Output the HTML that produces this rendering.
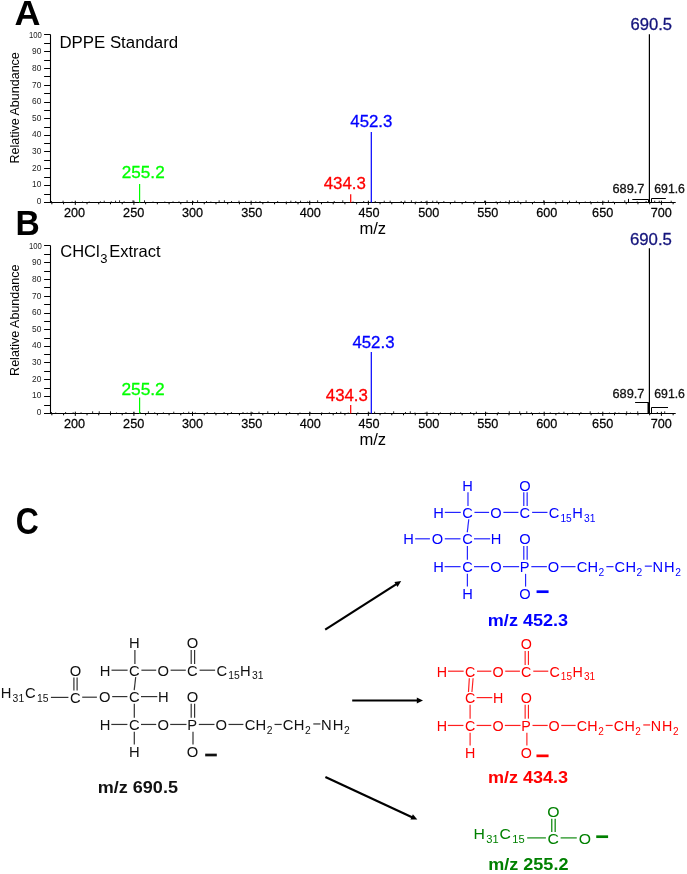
<!DOCTYPE html>
<html><head><meta charset="utf-8"><style>
html,body{margin:0;padding:0;background:#fff;}
svg{display:block;font-family:"Liberation Sans", sans-serif;will-change:transform;}
</style></head><body>
<svg width="687" height="874" viewBox="0 0 687 874">
<rect width="687" height="874" fill="#fff"/>
<text transform="translate(14.40,24.60) scale(1.0135,1)" font-size="35.49" font-weight="bold" fill="#000">A</text>
<text transform="translate(15.43,234.50) scale(0.9627,1)" font-size="34.91" font-weight="bold" fill="#000">B</text>
<text transform="translate(15.82,534.34) scale(0.8784,1)" font-size="36.33" font-weight="bold" fill="#000">C</text>
<line x1="50.50" y1="34.50" x2="50.50" y2="203.00" stroke="#000" stroke-width="1.1" />
<line x1="44.10" y1="202.50" x2="50.50" y2="202.50" stroke="#000" stroke-width="1.0" />
<line x1="44.10" y1="194.50" x2="50.50" y2="194.50" stroke="#000" stroke-width="1.0" />
<line x1="44.10" y1="185.50" x2="50.50" y2="185.50" stroke="#000" stroke-width="1.0" />
<line x1="44.10" y1="177.50" x2="50.50" y2="177.50" stroke="#000" stroke-width="1.0" />
<line x1="44.10" y1="168.50" x2="50.50" y2="168.50" stroke="#000" stroke-width="1.0" />
<line x1="44.10" y1="160.50" x2="50.50" y2="160.50" stroke="#000" stroke-width="1.0" />
<line x1="44.10" y1="151.50" x2="50.50" y2="151.50" stroke="#000" stroke-width="1.0" />
<line x1="44.10" y1="143.50" x2="50.50" y2="143.50" stroke="#000" stroke-width="1.0" />
<line x1="44.10" y1="135.50" x2="50.50" y2="135.50" stroke="#000" stroke-width="1.0" />
<line x1="44.10" y1="127.50" x2="50.50" y2="127.50" stroke="#000" stroke-width="1.0" />
<line x1="44.10" y1="118.50" x2="50.50" y2="118.50" stroke="#000" stroke-width="1.0" />
<line x1="44.10" y1="110.50" x2="50.50" y2="110.50" stroke="#000" stroke-width="1.0" />
<line x1="44.10" y1="102.50" x2="50.50" y2="102.50" stroke="#000" stroke-width="1.0" />
<line x1="44.10" y1="93.50" x2="50.50" y2="93.50" stroke="#000" stroke-width="1.0" />
<line x1="44.10" y1="85.50" x2="50.50" y2="85.50" stroke="#000" stroke-width="1.0" />
<line x1="44.10" y1="76.50" x2="50.50" y2="76.50" stroke="#000" stroke-width="1.0" />
<line x1="44.10" y1="68.50" x2="50.50" y2="68.50" stroke="#000" stroke-width="1.0" />
<line x1="44.10" y1="60.50" x2="50.50" y2="60.50" stroke="#000" stroke-width="1.0" />
<line x1="44.10" y1="51.50" x2="50.50" y2="51.50" stroke="#000" stroke-width="1.0" />
<line x1="44.10" y1="43.50" x2="50.50" y2="43.50" stroke="#000" stroke-width="1.0" />
<line x1="44.10" y1="34.50" x2="50.50" y2="34.50" stroke="#000" stroke-width="1.0" />
<text transform="translate(41.4,203.85) scale(0.93,1)" font-size="9" text-anchor="end" fill="#222">0</text>
<text transform="translate(41.4,187.25) scale(0.93,1)" font-size="9" text-anchor="end" fill="#222">10</text>
<text transform="translate(41.4,170.65) scale(0.93,1)" font-size="9" text-anchor="end" fill="#222">20</text>
<text transform="translate(41.4,154.05) scale(0.93,1)" font-size="9" text-anchor="end" fill="#222">30</text>
<text transform="translate(41.4,137.45) scale(0.93,1)" font-size="9" text-anchor="end" fill="#222">40</text>
<text transform="translate(41.4,120.85) scale(0.93,1)" font-size="9" text-anchor="end" fill="#222">50</text>
<text transform="translate(41.4,104.25) scale(0.93,1)" font-size="9" text-anchor="end" fill="#222">60</text>
<text transform="translate(41.4,87.65) scale(0.93,1)" font-size="9" text-anchor="end" fill="#222">70</text>
<text transform="translate(41.4,71.05) scale(0.93,1)" font-size="9" text-anchor="end" fill="#222">80</text>
<text transform="translate(41.4,54.45) scale(0.93,1)" font-size="9" text-anchor="end" fill="#222">90</text>
<text transform="translate(41.9,37.85) scale(0.86,1)" font-size="9" text-anchor="end" fill="#222">100</text>
<line x1="44.00" y1="202.50" x2="675.70" y2="202.50" stroke="#000" stroke-width="1.1" />
<line x1="51.86" y1="202.50" x2="51.86" y2="204.30" stroke="#000" stroke-width="1.0" />
<line x1="63.58" y1="202.50" x2="63.58" y2="204.30" stroke="#000" stroke-width="1.0" />
<line x1="75.30" y1="200.70" x2="75.30" y2="204.90" stroke="#000" stroke-width="1.0" />
<text transform="translate(74.55,216.95) scale(0.945,1)" font-size="13.4" text-anchor="middle" fill="#000" stroke="#000" stroke-width="0.25">200</text>
<line x1="87.02" y1="202.50" x2="87.02" y2="204.30" stroke="#000" stroke-width="1.0" />
<line x1="98.74" y1="202.50" x2="98.74" y2="204.30" stroke="#000" stroke-width="1.0" />
<line x1="110.47" y1="202.50" x2="110.47" y2="204.30" stroke="#000" stroke-width="1.0" />
<line x1="122.19" y1="202.50" x2="122.19" y2="204.30" stroke="#000" stroke-width="1.0" />
<line x1="133.91" y1="200.70" x2="133.91" y2="204.90" stroke="#000" stroke-width="1.0" />
<text transform="translate(133.65,216.95) scale(0.945,1)" font-size="13.4" text-anchor="middle" fill="#000" stroke="#000" stroke-width="0.25">250</text>
<line x1="145.63" y1="202.50" x2="145.63" y2="204.30" stroke="#000" stroke-width="1.0" />
<line x1="157.35" y1="202.50" x2="157.35" y2="204.30" stroke="#000" stroke-width="1.0" />
<line x1="169.08" y1="202.50" x2="169.08" y2="204.30" stroke="#000" stroke-width="1.0" />
<line x1="180.80" y1="202.50" x2="180.80" y2="204.30" stroke="#000" stroke-width="1.0" />
<line x1="192.52" y1="200.70" x2="192.52" y2="204.90" stroke="#000" stroke-width="1.0" />
<text transform="translate(192.45,216.95) scale(0.945,1)" font-size="13.4" text-anchor="middle" fill="#000" stroke="#000" stroke-width="0.25">300</text>
<line x1="204.24" y1="202.50" x2="204.24" y2="204.30" stroke="#000" stroke-width="1.0" />
<line x1="215.96" y1="202.50" x2="215.96" y2="204.30" stroke="#000" stroke-width="1.0" />
<line x1="227.69" y1="202.50" x2="227.69" y2="204.30" stroke="#000" stroke-width="1.0" />
<line x1="239.41" y1="202.50" x2="239.41" y2="204.30" stroke="#000" stroke-width="1.0" />
<line x1="251.13" y1="200.70" x2="251.13" y2="204.90" stroke="#000" stroke-width="1.0" />
<text transform="translate(251.75,216.95) scale(0.945,1)" font-size="13.4" text-anchor="middle" fill="#000" stroke="#000" stroke-width="0.25">350</text>
<line x1="262.85" y1="202.50" x2="262.85" y2="204.30" stroke="#000" stroke-width="1.0" />
<line x1="274.57" y1="202.50" x2="274.57" y2="204.30" stroke="#000" stroke-width="1.0" />
<line x1="286.30" y1="202.50" x2="286.30" y2="204.30" stroke="#000" stroke-width="1.0" />
<line x1="298.02" y1="202.50" x2="298.02" y2="204.30" stroke="#000" stroke-width="1.0" />
<line x1="309.74" y1="200.70" x2="309.74" y2="204.90" stroke="#000" stroke-width="1.0" />
<text transform="translate(310.35,216.95) scale(0.945,1)" font-size="13.4" text-anchor="middle" fill="#000" stroke="#000" stroke-width="0.25">400</text>
<line x1="321.46" y1="202.50" x2="321.46" y2="204.30" stroke="#000" stroke-width="1.0" />
<line x1="333.18" y1="202.50" x2="333.18" y2="204.30" stroke="#000" stroke-width="1.0" />
<line x1="344.91" y1="202.50" x2="344.91" y2="204.30" stroke="#000" stroke-width="1.0" />
<line x1="356.63" y1="202.50" x2="356.63" y2="204.30" stroke="#000" stroke-width="1.0" />
<line x1="368.35" y1="200.70" x2="368.35" y2="204.90" stroke="#000" stroke-width="1.0" />
<text transform="translate(368.95,216.95) scale(0.945,1)" font-size="13.4" text-anchor="middle" fill="#000" stroke="#000" stroke-width="0.25">450</text>
<line x1="380.07" y1="202.50" x2="380.07" y2="204.30" stroke="#000" stroke-width="1.0" />
<line x1="391.79" y1="202.50" x2="391.79" y2="204.30" stroke="#000" stroke-width="1.0" />
<line x1="403.52" y1="202.50" x2="403.52" y2="204.30" stroke="#000" stroke-width="1.0" />
<line x1="415.24" y1="202.50" x2="415.24" y2="204.30" stroke="#000" stroke-width="1.0" />
<line x1="426.96" y1="200.70" x2="426.96" y2="204.90" stroke="#000" stroke-width="1.0" />
<text transform="translate(428.70,216.95) scale(0.945,1)" font-size="13.4" text-anchor="middle" fill="#000" stroke="#000" stroke-width="0.25">500</text>
<line x1="438.68" y1="202.50" x2="438.68" y2="204.30" stroke="#000" stroke-width="1.0" />
<line x1="450.40" y1="202.50" x2="450.40" y2="204.30" stroke="#000" stroke-width="1.0" />
<line x1="462.13" y1="202.50" x2="462.13" y2="204.30" stroke="#000" stroke-width="1.0" />
<line x1="473.85" y1="202.50" x2="473.85" y2="204.30" stroke="#000" stroke-width="1.0" />
<line x1="485.57" y1="200.70" x2="485.57" y2="204.90" stroke="#000" stroke-width="1.0" />
<text transform="translate(487.80,216.95) scale(0.945,1)" font-size="13.4" text-anchor="middle" fill="#000" stroke="#000" stroke-width="0.25">550</text>
<line x1="497.29" y1="202.50" x2="497.29" y2="204.30" stroke="#000" stroke-width="1.0" />
<line x1="509.01" y1="202.50" x2="509.01" y2="204.30" stroke="#000" stroke-width="1.0" />
<line x1="520.74" y1="202.50" x2="520.74" y2="204.30" stroke="#000" stroke-width="1.0" />
<line x1="532.46" y1="202.50" x2="532.46" y2="204.30" stroke="#000" stroke-width="1.0" />
<line x1="544.18" y1="200.70" x2="544.18" y2="204.90" stroke="#000" stroke-width="1.0" />
<text transform="translate(546.75,216.95) scale(0.945,1)" font-size="13.4" text-anchor="middle" fill="#000" stroke="#000" stroke-width="0.25">600</text>
<line x1="555.90" y1="202.50" x2="555.90" y2="204.30" stroke="#000" stroke-width="1.0" />
<line x1="567.62" y1="202.50" x2="567.62" y2="204.30" stroke="#000" stroke-width="1.0" />
<line x1="579.35" y1="202.50" x2="579.35" y2="204.30" stroke="#000" stroke-width="1.0" />
<line x1="591.07" y1="202.50" x2="591.07" y2="204.30" stroke="#000" stroke-width="1.0" />
<line x1="602.79" y1="200.70" x2="602.79" y2="204.90" stroke="#000" stroke-width="1.0" />
<text transform="translate(602.65,216.95) scale(0.945,1)" font-size="13.4" text-anchor="middle" fill="#000" stroke="#000" stroke-width="0.25">650</text>
<line x1="614.51" y1="202.50" x2="614.51" y2="204.30" stroke="#000" stroke-width="1.0" />
<line x1="626.23" y1="202.50" x2="626.23" y2="204.30" stroke="#000" stroke-width="1.0" />
<line x1="637.96" y1="202.50" x2="637.96" y2="204.30" stroke="#000" stroke-width="1.0" />
<line x1="649.68" y1="202.50" x2="649.68" y2="204.30" stroke="#000" stroke-width="1.0" />
<line x1="661.40" y1="200.70" x2="661.40" y2="204.90" stroke="#000" stroke-width="1.0" />
<text transform="translate(661.25,216.95) scale(0.945,1)" font-size="13.4" text-anchor="middle" fill="#000" stroke="#000" stroke-width="0.25">700</text>
<line x1="673.12" y1="202.50" x2="673.12" y2="204.30" stroke="#000" stroke-width="1.0" />
<line x1="51.50" y1="202.50" x2="51.50" y2="201.00" stroke="#111" stroke-width="0.9" />
<line x1="63.06" y1="202.50" x2="63.06" y2="200.70" stroke="#111" stroke-width="0.9" />
<line x1="72.09" y1="202.50" x2="72.09" y2="201.50" stroke="#111" stroke-width="0.9" />
<line x1="82.57" y1="202.50" x2="82.57" y2="201.50" stroke="#111" stroke-width="0.9" />
<line x1="89.18" y1="202.50" x2="89.18" y2="201.50" stroke="#111" stroke-width="0.9" />
<line x1="100.41" y1="202.50" x2="100.41" y2="201.30" stroke="#111" stroke-width="0.9" />
<line x1="104.23" y1="202.50" x2="104.23" y2="200.70" stroke="#111" stroke-width="0.9" />
<line x1="111.28" y1="202.50" x2="111.28" y2="201.30" stroke="#111" stroke-width="0.9" />
<line x1="115.56" y1="202.50" x2="115.56" y2="200.70" stroke="#111" stroke-width="0.9" />
<line x1="119.56" y1="202.50" x2="119.56" y2="200.30" stroke="#111" stroke-width="0.9" />
<line x1="124.11" y1="202.50" x2="124.11" y2="201.30" stroke="#111" stroke-width="0.9" />
<line x1="132.97" y1="202.50" x2="132.97" y2="200.30" stroke="#111" stroke-width="0.9" />
<line x1="144.53" y1="202.50" x2="144.53" y2="200.30" stroke="#111" stroke-width="0.9" />
<line x1="153.00" y1="202.50" x2="153.00" y2="201.50" stroke="#111" stroke-width="0.9" />
<line x1="164.80" y1="202.50" x2="164.80" y2="201.50" stroke="#111" stroke-width="0.9" />
<line x1="173.03" y1="202.50" x2="173.03" y2="201.30" stroke="#111" stroke-width="0.9" />
<line x1="178.99" y1="202.50" x2="178.99" y2="201.30" stroke="#111" stroke-width="0.9" />
<line x1="187.09" y1="202.50" x2="187.09" y2="200.30" stroke="#111" stroke-width="0.9" />
<line x1="193.21" y1="202.50" x2="193.21" y2="201.30" stroke="#111" stroke-width="0.9" />
<line x1="197.59" y1="202.50" x2="197.59" y2="200.30" stroke="#111" stroke-width="0.9" />
<line x1="206.52" y1="202.50" x2="206.52" y2="201.00" stroke="#111" stroke-width="0.9" />
<line x1="210.85" y1="202.50" x2="210.85" y2="201.50" stroke="#111" stroke-width="0.9" />
<line x1="219.14" y1="202.50" x2="219.14" y2="200.30" stroke="#111" stroke-width="0.9" />
<line x1="224.40" y1="202.50" x2="224.40" y2="200.30" stroke="#111" stroke-width="0.9" />
<line x1="231.53" y1="202.50" x2="231.53" y2="201.00" stroke="#111" stroke-width="0.9" />
<line x1="238.99" y1="202.50" x2="238.99" y2="200.70" stroke="#111" stroke-width="0.9" />
<line x1="245.56" y1="202.50" x2="245.56" y2="201.30" stroke="#111" stroke-width="0.9" />
<line x1="255.81" y1="202.50" x2="255.81" y2="201.30" stroke="#111" stroke-width="0.9" />
<line x1="260.01" y1="202.50" x2="260.01" y2="201.00" stroke="#111" stroke-width="0.9" />
<line x1="267.97" y1="202.50" x2="267.97" y2="201.00" stroke="#111" stroke-width="0.9" />
<line x1="277.67" y1="202.50" x2="277.67" y2="201.00" stroke="#111" stroke-width="0.9" />
<line x1="286.35" y1="202.50" x2="286.35" y2="201.50" stroke="#111" stroke-width="0.9" />
<line x1="290.85" y1="202.50" x2="290.85" y2="200.70" stroke="#111" stroke-width="0.9" />
<line x1="295.76" y1="202.50" x2="295.76" y2="201.00" stroke="#111" stroke-width="0.9" />
<line x1="300.55" y1="202.50" x2="300.55" y2="200.70" stroke="#111" stroke-width="0.9" />
<line x1="307.63" y1="202.50" x2="307.63" y2="201.50" stroke="#111" stroke-width="0.9" />
<line x1="317.63" y1="202.50" x2="317.63" y2="200.30" stroke="#111" stroke-width="0.9" />
<line x1="327.84" y1="202.50" x2="327.84" y2="201.00" stroke="#111" stroke-width="0.9" />
<line x1="334.23" y1="202.50" x2="334.23" y2="201.00" stroke="#111" stroke-width="0.9" />
<line x1="342.78" y1="202.50" x2="342.78" y2="200.30" stroke="#111" stroke-width="0.9" />
<line x1="353.05" y1="202.50" x2="353.05" y2="201.50" stroke="#111" stroke-width="0.9" />
<line x1="363.69" y1="202.50" x2="363.69" y2="201.00" stroke="#111" stroke-width="0.9" />
<line x1="371.22" y1="202.50" x2="371.22" y2="201.50" stroke="#111" stroke-width="0.9" />
<line x1="375.24" y1="202.50" x2="375.24" y2="201.00" stroke="#111" stroke-width="0.9" />
<line x1="384.24" y1="202.50" x2="384.24" y2="200.70" stroke="#111" stroke-width="0.9" />
<line x1="390.16" y1="202.50" x2="390.16" y2="200.70" stroke="#111" stroke-width="0.9" />
<line x1="401.20" y1="202.50" x2="401.20" y2="201.00" stroke="#111" stroke-width="0.9" />
<line x1="404.89" y1="202.50" x2="404.89" y2="200.70" stroke="#111" stroke-width="0.9" />
<line x1="411.41" y1="202.50" x2="411.41" y2="200.30" stroke="#111" stroke-width="0.9" />
<line x1="415.91" y1="202.50" x2="415.91" y2="201.50" stroke="#111" stroke-width="0.9" />
<line x1="421.26" y1="202.50" x2="421.26" y2="201.00" stroke="#111" stroke-width="0.9" />
<line x1="425.86" y1="202.50" x2="425.86" y2="201.30" stroke="#111" stroke-width="0.9" />
<line x1="432.74" y1="202.50" x2="432.74" y2="200.70" stroke="#111" stroke-width="0.9" />
<line x1="436.93" y1="202.50" x2="436.93" y2="200.70" stroke="#111" stroke-width="0.9" />
<line x1="443.84" y1="202.50" x2="443.84" y2="201.00" stroke="#111" stroke-width="0.9" />
<line x1="454.85" y1="202.50" x2="454.85" y2="200.70" stroke="#111" stroke-width="0.9" />
<line x1="465.70" y1="202.50" x2="465.70" y2="201.00" stroke="#111" stroke-width="0.9" />
<line x1="475.20" y1="202.50" x2="475.20" y2="201.00" stroke="#111" stroke-width="0.9" />
<line x1="484.50" y1="202.50" x2="484.50" y2="200.70" stroke="#111" stroke-width="0.9" />
<line x1="496.14" y1="202.50" x2="496.14" y2="201.30" stroke="#111" stroke-width="0.9" />
<line x1="500.35" y1="202.50" x2="500.35" y2="201.30" stroke="#111" stroke-width="0.9" />
<line x1="505.82" y1="202.50" x2="505.82" y2="201.30" stroke="#111" stroke-width="0.9" />
<line x1="509.42" y1="202.50" x2="509.42" y2="200.30" stroke="#111" stroke-width="0.9" />
<line x1="514.47" y1="202.50" x2="514.47" y2="201.00" stroke="#111" stroke-width="0.9" />
<line x1="518.01" y1="202.50" x2="518.01" y2="200.70" stroke="#111" stroke-width="0.9" />
<line x1="526.05" y1="202.50" x2="526.05" y2="200.30" stroke="#111" stroke-width="0.9" />
<line x1="534.37" y1="202.50" x2="534.37" y2="201.30" stroke="#111" stroke-width="0.9" />
<line x1="543.74" y1="202.50" x2="543.74" y2="200.30" stroke="#111" stroke-width="0.9" />
<line x1="555.31" y1="202.50" x2="555.31" y2="201.50" stroke="#111" stroke-width="0.9" />
<line x1="562.69" y1="202.50" x2="562.69" y2="200.30" stroke="#111" stroke-width="0.9" />
<line x1="569.53" y1="202.50" x2="569.53" y2="200.70" stroke="#111" stroke-width="0.9" />
<line x1="576.38" y1="202.50" x2="576.38" y2="200.70" stroke="#111" stroke-width="0.9" />
<line x1="585.27" y1="202.50" x2="585.27" y2="201.50" stroke="#111" stroke-width="0.9" />
<line x1="590.39" y1="202.50" x2="590.39" y2="201.30" stroke="#111" stroke-width="0.9" />
<line x1="597.64" y1="202.50" x2="597.64" y2="201.50" stroke="#111" stroke-width="0.9" />
<line x1="604.03" y1="202.50" x2="604.03" y2="201.50" stroke="#111" stroke-width="0.9" />
<line x1="608.40" y1="202.50" x2="608.40" y2="200.30" stroke="#111" stroke-width="0.9" />
<line x1="613.18" y1="202.50" x2="613.18" y2="201.50" stroke="#111" stroke-width="0.9" />
<line x1="624.75" y1="202.50" x2="624.75" y2="200.30" stroke="#111" stroke-width="0.9" />
<line x1="628.47" y1="202.50" x2="628.47" y2="201.30" stroke="#111" stroke-width="0.9" />
<line x1="637.18" y1="202.50" x2="637.18" y2="201.30" stroke="#111" stroke-width="0.9" />
<line x1="646.08" y1="202.50" x2="646.08" y2="201.00" stroke="#111" stroke-width="0.9" />
<line x1="654.70" y1="202.50" x2="654.70" y2="200.70" stroke="#111" stroke-width="0.9" />
<line x1="659.24" y1="202.50" x2="659.24" y2="200.70" stroke="#111" stroke-width="0.9" />
<line x1="671.18" y1="202.50" x2="671.18" y2="200.70" stroke="#111" stroke-width="0.9" />
<text x="0.00" y="0.00" font-size="12.53" fill="#000" text-anchor="start" font-weight="normal" transform="translate(19.0,163.5) rotate(-90)">Relative Abundance</text>
<text x="59.4" y="48.3" font-size="16.84">DPPE Standard</text>
<text x="372.80" y="233.90" font-size="16.60" fill="#000" text-anchor="middle" font-weight="normal" >m/z</text>
<line x1="139.60" y1="202.50" x2="139.60" y2="184.10" stroke="#00ff00" stroke-width="1.2" />
<line x1="350.70" y1="202.50" x2="350.70" y2="194.30" stroke="#ff0000" stroke-width="1.2" />
<line x1="371.30" y1="202.50" x2="371.30" y2="132.00" stroke="#0000ff" stroke-width="1.2" />
<line x1="649.40" y1="202.50" x2="649.40" y2="34.20" stroke="#000" stroke-width="1.2" />
<line x1="50.50" y1="245.50" x2="50.50" y2="414.00" stroke="#000" stroke-width="1.1" />
<line x1="44.10" y1="413.50" x2="50.50" y2="413.50" stroke="#000" stroke-width="1.0" />
<line x1="44.10" y1="405.50" x2="50.50" y2="405.50" stroke="#000" stroke-width="1.0" />
<line x1="44.10" y1="396.50" x2="50.50" y2="396.50" stroke="#000" stroke-width="1.0" />
<line x1="44.10" y1="388.50" x2="50.50" y2="388.50" stroke="#000" stroke-width="1.0" />
<line x1="44.10" y1="379.50" x2="50.50" y2="379.50" stroke="#000" stroke-width="1.0" />
<line x1="44.10" y1="371.50" x2="50.50" y2="371.50" stroke="#000" stroke-width="1.0" />
<line x1="44.10" y1="362.50" x2="50.50" y2="362.50" stroke="#000" stroke-width="1.0" />
<line x1="44.10" y1="354.50" x2="50.50" y2="354.50" stroke="#000" stroke-width="1.0" />
<line x1="44.10" y1="346.50" x2="50.50" y2="346.50" stroke="#000" stroke-width="1.0" />
<line x1="44.10" y1="338.50" x2="50.50" y2="338.50" stroke="#000" stroke-width="1.0" />
<line x1="44.10" y1="329.50" x2="50.50" y2="329.50" stroke="#000" stroke-width="1.0" />
<line x1="44.10" y1="321.50" x2="50.50" y2="321.50" stroke="#000" stroke-width="1.0" />
<line x1="44.10" y1="313.50" x2="50.50" y2="313.50" stroke="#000" stroke-width="1.0" />
<line x1="44.10" y1="304.50" x2="50.50" y2="304.50" stroke="#000" stroke-width="1.0" />
<line x1="44.10" y1="296.50" x2="50.50" y2="296.50" stroke="#000" stroke-width="1.0" />
<line x1="44.10" y1="287.50" x2="50.50" y2="287.50" stroke="#000" stroke-width="1.0" />
<line x1="44.10" y1="279.50" x2="50.50" y2="279.50" stroke="#000" stroke-width="1.0" />
<line x1="44.10" y1="271.50" x2="50.50" y2="271.50" stroke="#000" stroke-width="1.0" />
<line x1="44.10" y1="262.50" x2="50.50" y2="262.50" stroke="#000" stroke-width="1.0" />
<line x1="44.10" y1="254.50" x2="50.50" y2="254.50" stroke="#000" stroke-width="1.0" />
<line x1="44.10" y1="245.50" x2="50.50" y2="245.50" stroke="#000" stroke-width="1.0" />
<text transform="translate(41.4,414.85) scale(0.93,1)" font-size="9" text-anchor="end" fill="#222">0</text>
<text transform="translate(41.4,398.25) scale(0.93,1)" font-size="9" text-anchor="end" fill="#222">10</text>
<text transform="translate(41.4,381.65) scale(0.93,1)" font-size="9" text-anchor="end" fill="#222">20</text>
<text transform="translate(41.4,365.05) scale(0.93,1)" font-size="9" text-anchor="end" fill="#222">30</text>
<text transform="translate(41.4,348.45) scale(0.93,1)" font-size="9" text-anchor="end" fill="#222">40</text>
<text transform="translate(41.4,331.85) scale(0.93,1)" font-size="9" text-anchor="end" fill="#222">50</text>
<text transform="translate(41.4,315.25) scale(0.93,1)" font-size="9" text-anchor="end" fill="#222">60</text>
<text transform="translate(41.4,298.65) scale(0.93,1)" font-size="9" text-anchor="end" fill="#222">70</text>
<text transform="translate(41.4,282.05) scale(0.93,1)" font-size="9" text-anchor="end" fill="#222">80</text>
<text transform="translate(41.4,265.45) scale(0.93,1)" font-size="9" text-anchor="end" fill="#222">90</text>
<text transform="translate(41.9,248.85) scale(0.86,1)" font-size="9" text-anchor="end" fill="#222">100</text>
<line x1="44.00" y1="413.50" x2="675.70" y2="413.50" stroke="#000" stroke-width="1.1" />
<line x1="51.86" y1="413.50" x2="51.86" y2="415.30" stroke="#000" stroke-width="1.0" />
<line x1="63.58" y1="413.50" x2="63.58" y2="415.30" stroke="#000" stroke-width="1.0" />
<line x1="75.30" y1="411.70" x2="75.30" y2="415.90" stroke="#000" stroke-width="1.0" />
<text transform="translate(74.55,427.95) scale(0.945,1)" font-size="13.4" text-anchor="middle" fill="#000" stroke="#000" stroke-width="0.25">200</text>
<line x1="87.02" y1="413.50" x2="87.02" y2="415.30" stroke="#000" stroke-width="1.0" />
<line x1="98.74" y1="413.50" x2="98.74" y2="415.30" stroke="#000" stroke-width="1.0" />
<line x1="110.47" y1="413.50" x2="110.47" y2="415.30" stroke="#000" stroke-width="1.0" />
<line x1="122.19" y1="413.50" x2="122.19" y2="415.30" stroke="#000" stroke-width="1.0" />
<line x1="133.91" y1="411.70" x2="133.91" y2="415.90" stroke="#000" stroke-width="1.0" />
<text transform="translate(133.65,427.95) scale(0.945,1)" font-size="13.4" text-anchor="middle" fill="#000" stroke="#000" stroke-width="0.25">250</text>
<line x1="145.63" y1="413.50" x2="145.63" y2="415.30" stroke="#000" stroke-width="1.0" />
<line x1="157.35" y1="413.50" x2="157.35" y2="415.30" stroke="#000" stroke-width="1.0" />
<line x1="169.08" y1="413.50" x2="169.08" y2="415.30" stroke="#000" stroke-width="1.0" />
<line x1="180.80" y1="413.50" x2="180.80" y2="415.30" stroke="#000" stroke-width="1.0" />
<line x1="192.52" y1="411.70" x2="192.52" y2="415.90" stroke="#000" stroke-width="1.0" />
<text transform="translate(192.45,427.95) scale(0.945,1)" font-size="13.4" text-anchor="middle" fill="#000" stroke="#000" stroke-width="0.25">300</text>
<line x1="204.24" y1="413.50" x2="204.24" y2="415.30" stroke="#000" stroke-width="1.0" />
<line x1="215.96" y1="413.50" x2="215.96" y2="415.30" stroke="#000" stroke-width="1.0" />
<line x1="227.69" y1="413.50" x2="227.69" y2="415.30" stroke="#000" stroke-width="1.0" />
<line x1="239.41" y1="413.50" x2="239.41" y2="415.30" stroke="#000" stroke-width="1.0" />
<line x1="251.13" y1="411.70" x2="251.13" y2="415.90" stroke="#000" stroke-width="1.0" />
<text transform="translate(251.75,427.95) scale(0.945,1)" font-size="13.4" text-anchor="middle" fill="#000" stroke="#000" stroke-width="0.25">350</text>
<line x1="262.85" y1="413.50" x2="262.85" y2="415.30" stroke="#000" stroke-width="1.0" />
<line x1="274.57" y1="413.50" x2="274.57" y2="415.30" stroke="#000" stroke-width="1.0" />
<line x1="286.30" y1="413.50" x2="286.30" y2="415.30" stroke="#000" stroke-width="1.0" />
<line x1="298.02" y1="413.50" x2="298.02" y2="415.30" stroke="#000" stroke-width="1.0" />
<line x1="309.74" y1="411.70" x2="309.74" y2="415.90" stroke="#000" stroke-width="1.0" />
<text transform="translate(310.35,427.95) scale(0.945,1)" font-size="13.4" text-anchor="middle" fill="#000" stroke="#000" stroke-width="0.25">400</text>
<line x1="321.46" y1="413.50" x2="321.46" y2="415.30" stroke="#000" stroke-width="1.0" />
<line x1="333.18" y1="413.50" x2="333.18" y2="415.30" stroke="#000" stroke-width="1.0" />
<line x1="344.91" y1="413.50" x2="344.91" y2="415.30" stroke="#000" stroke-width="1.0" />
<line x1="356.63" y1="413.50" x2="356.63" y2="415.30" stroke="#000" stroke-width="1.0" />
<line x1="368.35" y1="411.70" x2="368.35" y2="415.90" stroke="#000" stroke-width="1.0" />
<text transform="translate(368.95,427.95) scale(0.945,1)" font-size="13.4" text-anchor="middle" fill="#000" stroke="#000" stroke-width="0.25">450</text>
<line x1="380.07" y1="413.50" x2="380.07" y2="415.30" stroke="#000" stroke-width="1.0" />
<line x1="391.79" y1="413.50" x2="391.79" y2="415.30" stroke="#000" stroke-width="1.0" />
<line x1="403.52" y1="413.50" x2="403.52" y2="415.30" stroke="#000" stroke-width="1.0" />
<line x1="415.24" y1="413.50" x2="415.24" y2="415.30" stroke="#000" stroke-width="1.0" />
<line x1="426.96" y1="411.70" x2="426.96" y2="415.90" stroke="#000" stroke-width="1.0" />
<text transform="translate(428.70,427.95) scale(0.945,1)" font-size="13.4" text-anchor="middle" fill="#000" stroke="#000" stroke-width="0.25">500</text>
<line x1="438.68" y1="413.50" x2="438.68" y2="415.30" stroke="#000" stroke-width="1.0" />
<line x1="450.40" y1="413.50" x2="450.40" y2="415.30" stroke="#000" stroke-width="1.0" />
<line x1="462.13" y1="413.50" x2="462.13" y2="415.30" stroke="#000" stroke-width="1.0" />
<line x1="473.85" y1="413.50" x2="473.85" y2="415.30" stroke="#000" stroke-width="1.0" />
<line x1="485.57" y1="411.70" x2="485.57" y2="415.90" stroke="#000" stroke-width="1.0" />
<text transform="translate(487.80,427.95) scale(0.945,1)" font-size="13.4" text-anchor="middle" fill="#000" stroke="#000" stroke-width="0.25">550</text>
<line x1="497.29" y1="413.50" x2="497.29" y2="415.30" stroke="#000" stroke-width="1.0" />
<line x1="509.01" y1="413.50" x2="509.01" y2="415.30" stroke="#000" stroke-width="1.0" />
<line x1="520.74" y1="413.50" x2="520.74" y2="415.30" stroke="#000" stroke-width="1.0" />
<line x1="532.46" y1="413.50" x2="532.46" y2="415.30" stroke="#000" stroke-width="1.0" />
<line x1="544.18" y1="411.70" x2="544.18" y2="415.90" stroke="#000" stroke-width="1.0" />
<text transform="translate(546.75,427.95) scale(0.945,1)" font-size="13.4" text-anchor="middle" fill="#000" stroke="#000" stroke-width="0.25">600</text>
<line x1="555.90" y1="413.50" x2="555.90" y2="415.30" stroke="#000" stroke-width="1.0" />
<line x1="567.62" y1="413.50" x2="567.62" y2="415.30" stroke="#000" stroke-width="1.0" />
<line x1="579.35" y1="413.50" x2="579.35" y2="415.30" stroke="#000" stroke-width="1.0" />
<line x1="591.07" y1="413.50" x2="591.07" y2="415.30" stroke="#000" stroke-width="1.0" />
<line x1="602.79" y1="411.70" x2="602.79" y2="415.90" stroke="#000" stroke-width="1.0" />
<text transform="translate(602.65,427.95) scale(0.945,1)" font-size="13.4" text-anchor="middle" fill="#000" stroke="#000" stroke-width="0.25">650</text>
<line x1="614.51" y1="413.50" x2="614.51" y2="415.30" stroke="#000" stroke-width="1.0" />
<line x1="626.23" y1="413.50" x2="626.23" y2="415.30" stroke="#000" stroke-width="1.0" />
<line x1="637.96" y1="413.50" x2="637.96" y2="415.30" stroke="#000" stroke-width="1.0" />
<line x1="649.68" y1="413.50" x2="649.68" y2="415.30" stroke="#000" stroke-width="1.0" />
<line x1="661.40" y1="411.70" x2="661.40" y2="415.90" stroke="#000" stroke-width="1.0" />
<text transform="translate(661.25,427.95) scale(0.945,1)" font-size="13.4" text-anchor="middle" fill="#000" stroke="#000" stroke-width="0.25">700</text>
<line x1="673.12" y1="413.50" x2="673.12" y2="415.30" stroke="#000" stroke-width="1.0" />
<line x1="51.50" y1="413.50" x2="51.50" y2="412.00" stroke="#111" stroke-width="0.9" />
<line x1="55.73" y1="413.50" x2="55.73" y2="412.50" stroke="#111" stroke-width="0.9" />
<line x1="65.60" y1="413.50" x2="65.60" y2="412.00" stroke="#111" stroke-width="0.9" />
<line x1="73.17" y1="413.50" x2="73.17" y2="412.30" stroke="#111" stroke-width="0.9" />
<line x1="81.06" y1="413.50" x2="81.06" y2="412.30" stroke="#111" stroke-width="0.9" />
<line x1="92.64" y1="413.50" x2="92.64" y2="411.30" stroke="#111" stroke-width="0.9" />
<line x1="99.22" y1="413.50" x2="99.22" y2="411.30" stroke="#111" stroke-width="0.9" />
<line x1="110.49" y1="413.50" x2="110.49" y2="411.30" stroke="#111" stroke-width="0.9" />
<line x1="116.52" y1="413.50" x2="116.52" y2="412.50" stroke="#111" stroke-width="0.9" />
<line x1="125.94" y1="413.50" x2="125.94" y2="412.00" stroke="#111" stroke-width="0.9" />
<line x1="133.85" y1="413.50" x2="133.85" y2="412.30" stroke="#111" stroke-width="0.9" />
<line x1="140.37" y1="413.50" x2="140.37" y2="412.30" stroke="#111" stroke-width="0.9" />
<line x1="148.40" y1="413.50" x2="148.40" y2="411.30" stroke="#111" stroke-width="0.9" />
<line x1="154.70" y1="413.50" x2="154.70" y2="412.30" stroke="#111" stroke-width="0.9" />
<line x1="163.41" y1="413.50" x2="163.41" y2="412.30" stroke="#111" stroke-width="0.9" />
<line x1="173.76" y1="413.50" x2="173.76" y2="411.70" stroke="#111" stroke-width="0.9" />
<line x1="183.55" y1="413.50" x2="183.55" y2="412.30" stroke="#111" stroke-width="0.9" />
<line x1="188.75" y1="413.50" x2="188.75" y2="411.70" stroke="#111" stroke-width="0.9" />
<line x1="195.27" y1="413.50" x2="195.27" y2="412.50" stroke="#111" stroke-width="0.9" />
<line x1="207.18" y1="413.50" x2="207.18" y2="412.00" stroke="#111" stroke-width="0.9" />
<line x1="214.70" y1="413.50" x2="214.70" y2="412.30" stroke="#111" stroke-width="0.9" />
<line x1="224.09" y1="413.50" x2="224.09" y2="412.00" stroke="#111" stroke-width="0.9" />
<line x1="231.39" y1="413.50" x2="231.39" y2="412.00" stroke="#111" stroke-width="0.9" />
<line x1="243.00" y1="413.50" x2="243.00" y2="412.00" stroke="#111" stroke-width="0.9" />
<line x1="247.19" y1="413.50" x2="247.19" y2="412.50" stroke="#111" stroke-width="0.9" />
<line x1="252.62" y1="413.50" x2="252.62" y2="412.30" stroke="#111" stroke-width="0.9" />
<line x1="258.99" y1="413.50" x2="258.99" y2="411.70" stroke="#111" stroke-width="0.9" />
<line x1="267.79" y1="413.50" x2="267.79" y2="411.30" stroke="#111" stroke-width="0.9" />
<line x1="278.44" y1="413.50" x2="278.44" y2="411.70" stroke="#111" stroke-width="0.9" />
<line x1="289.66" y1="413.50" x2="289.66" y2="412.00" stroke="#111" stroke-width="0.9" />
<line x1="299.96" y1="413.50" x2="299.96" y2="412.50" stroke="#111" stroke-width="0.9" />
<line x1="310.56" y1="413.50" x2="310.56" y2="412.50" stroke="#111" stroke-width="0.9" />
<line x1="321.79" y1="413.50" x2="321.79" y2="412.30" stroke="#111" stroke-width="0.9" />
<line x1="329.35" y1="413.50" x2="329.35" y2="412.30" stroke="#111" stroke-width="0.9" />
<line x1="336.54" y1="413.50" x2="336.54" y2="412.00" stroke="#111" stroke-width="0.9" />
<line x1="340.78" y1="413.50" x2="340.78" y2="411.70" stroke="#111" stroke-width="0.9" />
<line x1="348.21" y1="413.50" x2="348.21" y2="412.50" stroke="#111" stroke-width="0.9" />
<line x1="357.88" y1="413.50" x2="357.88" y2="412.30" stroke="#111" stroke-width="0.9" />
<line x1="369.82" y1="413.50" x2="369.82" y2="412.50" stroke="#111" stroke-width="0.9" />
<line x1="374.60" y1="413.50" x2="374.60" y2="411.70" stroke="#111" stroke-width="0.9" />
<line x1="384.96" y1="413.50" x2="384.96" y2="412.30" stroke="#111" stroke-width="0.9" />
<line x1="393.66" y1="413.50" x2="393.66" y2="411.30" stroke="#111" stroke-width="0.9" />
<line x1="405.49" y1="413.50" x2="405.49" y2="412.00" stroke="#111" stroke-width="0.9" />
<line x1="410.31" y1="413.50" x2="410.31" y2="411.30" stroke="#111" stroke-width="0.9" />
<line x1="414.93" y1="413.50" x2="414.93" y2="412.50" stroke="#111" stroke-width="0.9" />
<line x1="425.22" y1="413.50" x2="425.22" y2="412.50" stroke="#111" stroke-width="0.9" />
<line x1="433.20" y1="413.50" x2="433.20" y2="412.30" stroke="#111" stroke-width="0.9" />
<line x1="440.38" y1="413.50" x2="440.38" y2="412.30" stroke="#111" stroke-width="0.9" />
<line x1="450.91" y1="413.50" x2="450.91" y2="412.30" stroke="#111" stroke-width="0.9" />
<line x1="454.64" y1="413.50" x2="454.64" y2="412.30" stroke="#111" stroke-width="0.9" />
<line x1="460.63" y1="413.50" x2="460.63" y2="412.30" stroke="#111" stroke-width="0.9" />
<line x1="470.63" y1="413.50" x2="470.63" y2="412.00" stroke="#111" stroke-width="0.9" />
<line x1="476.33" y1="413.50" x2="476.33" y2="411.70" stroke="#111" stroke-width="0.9" />
<line x1="486.92" y1="413.50" x2="486.92" y2="412.50" stroke="#111" stroke-width="0.9" />
<line x1="498.16" y1="413.50" x2="498.16" y2="412.00" stroke="#111" stroke-width="0.9" />
<line x1="509.29" y1="413.50" x2="509.29" y2="411.30" stroke="#111" stroke-width="0.9" />
<line x1="519.71" y1="413.50" x2="519.71" y2="411.30" stroke="#111" stroke-width="0.9" />
<line x1="526.79" y1="413.50" x2="526.79" y2="411.30" stroke="#111" stroke-width="0.9" />
<line x1="531.40" y1="413.50" x2="531.40" y2="412.30" stroke="#111" stroke-width="0.9" />
<line x1="539.35" y1="413.50" x2="539.35" y2="412.50" stroke="#111" stroke-width="0.9" />
<line x1="550.27" y1="413.50" x2="550.27" y2="412.30" stroke="#111" stroke-width="0.9" />
<line x1="558.94" y1="413.50" x2="558.94" y2="412.30" stroke="#111" stroke-width="0.9" />
<line x1="563.91" y1="413.50" x2="563.91" y2="411.70" stroke="#111" stroke-width="0.9" />
<line x1="572.67" y1="413.50" x2="572.67" y2="412.50" stroke="#111" stroke-width="0.9" />
<line x1="580.90" y1="413.50" x2="580.90" y2="412.00" stroke="#111" stroke-width="0.9" />
<line x1="590.20" y1="413.50" x2="590.20" y2="411.30" stroke="#111" stroke-width="0.9" />
<line x1="598.42" y1="413.50" x2="598.42" y2="412.50" stroke="#111" stroke-width="0.9" />
<line x1="609.43" y1="413.50" x2="609.43" y2="412.50" stroke="#111" stroke-width="0.9" />
<line x1="615.04" y1="413.50" x2="615.04" y2="412.00" stroke="#111" stroke-width="0.9" />
<line x1="618.90" y1="413.50" x2="618.90" y2="412.50" stroke="#111" stroke-width="0.9" />
<line x1="626.72" y1="413.50" x2="626.72" y2="411.30" stroke="#111" stroke-width="0.9" />
<line x1="630.45" y1="413.50" x2="630.45" y2="412.50" stroke="#111" stroke-width="0.9" />
<line x1="637.72" y1="413.50" x2="637.72" y2="411.30" stroke="#111" stroke-width="0.9" />
<line x1="649.49" y1="413.50" x2="649.49" y2="411.30" stroke="#111" stroke-width="0.9" />
<line x1="657.35" y1="413.50" x2="657.35" y2="412.00" stroke="#111" stroke-width="0.9" />
<line x1="664.69" y1="413.50" x2="664.69" y2="411.30" stroke="#111" stroke-width="0.9" />
<text x="0.00" y="0.00" font-size="12.53" fill="#000" text-anchor="start" font-weight="normal" transform="translate(19.0,375.9) rotate(-90)">Relative Abundance</text>
<text x="60.27" y="257.3" font-size="16.5">CHCl</text><text x="100.31" y="263.2" font-size="13">3</text><text x="109.14" y="257.3" font-size="16.5">Extract</text>
<text x="372.80" y="444.90" font-size="16.60" fill="#000" text-anchor="middle" font-weight="normal" >m/z</text>
<line x1="139.60" y1="413.50" x2="139.60" y2="397.40" stroke="#00ff00" stroke-width="1.2" />
<line x1="350.70" y1="413.50" x2="350.70" y2="405.00" stroke="#ff0000" stroke-width="1.2" />
<line x1="371.30" y1="413.50" x2="371.30" y2="352.00" stroke="#0000ff" stroke-width="1.2" />
<line x1="649.40" y1="413.50" x2="649.40" y2="248.20" stroke="#000" stroke-width="1.2" />
<text x="121.84" y="177.90" font-size="17.11" fill="#00ff00" text-anchor="start" font-weight="normal" stroke="#00ff00" stroke-width="0.3">255.2</text>
<text x="350.32" y="126.60" font-size="16.82" fill="#0000ff" text-anchor="start" font-weight="normal" stroke="#0000ff" stroke-width="0.3">452.3</text>
<text x="323.72" y="189.40" font-size="16.86" fill="#ff0000" text-anchor="start" font-weight="normal" stroke="#ff0000" stroke-width="0.3">434.3</text>
<text x="630.47" y="29.60" font-size="16.58" fill="#14147c" text-anchor="start" font-weight="normal" stroke="#14147c" stroke-width="0.3">690.5</text>
<text x="612.46" y="193.20" font-size="12.78" fill="#111" text-anchor="start" font-weight="normal" stroke="#111" stroke-width="0.3">689.7</text>
<text x="654.29" y="193.20" font-size="12.24" fill="#111" text-anchor="start" font-weight="normal" stroke="#111" stroke-width="0.3">691.6</text>
<text x="121.43" y="395.10" font-size="17.32" fill="#00ff00" text-anchor="start" font-weight="normal" stroke="#00ff00" stroke-width="0.3">255.2</text>
<text x="352.42" y="347.90" font-size="16.82" fill="#0000ff" text-anchor="start" font-weight="normal" stroke="#0000ff" stroke-width="0.3">452.3</text>
<text x="325.82" y="400.70" font-size="16.82" fill="#ff0000" text-anchor="start" font-weight="normal" stroke="#ff0000" stroke-width="0.3">434.3</text>
<text x="629.96" y="244.60" font-size="16.79" fill="#14147c" text-anchor="start" font-weight="normal" stroke="#14147c" stroke-width="0.3">690.5</text>
<text x="612.46" y="397.90" font-size="12.78" fill="#111" text-anchor="start" font-weight="normal" stroke="#111" stroke-width="0.3">689.7</text>
<text x="654.29" y="397.90" font-size="12.24" fill="#111" text-anchor="start" font-weight="normal" stroke="#111" stroke-width="0.3">691.6</text>
<path d="M632.3 199.5 H648.5 V202.5" stroke="#000" stroke-width="1.0" fill="none" />
<path d="M651.5 202.5 V198.5 H665.8" stroke="#000" stroke-width="1.0" fill="none" />
<line x1="628.50" y1="202.50" x2="628.50" y2="198.90" stroke="#000" stroke-width="1.0" />
<path d="M635.1 402.5 H648.5 V413.5" stroke="#000" stroke-width="1.0" fill="none" />
<line x1="648.30" y1="402.50" x2="648.30" y2="413.50" stroke="#000" stroke-width="1.6" />
<path d="M651.5 413.5 V407.5 H668" stroke="#000" stroke-width="1.0" fill="none" />
<text transform="translate(134.40,648.49) scale(1.02,1)" x="-5.24" font-size="14.5" fill="#111">H</text>
<text transform="translate(192.40,648.49) scale(1.02,1)" x="-5.64" font-size="14.5" fill="#111">O</text>
<text transform="translate(105.10,675.89) scale(1.02,1)" x="-5.24" font-size="14.5" fill="#111">H</text>
<text transform="translate(134.40,675.89) scale(1.02,1)" x="-5.31" font-size="14.5" fill="#111">C</text>
<text transform="translate(163.20,675.89) scale(1.02,1)" x="-5.64" font-size="14.5" fill="#111">O</text>
<text transform="translate(192.40,675.89) scale(1.02,1)" x="-5.31" font-size="14.5" fill="#111">C</text>
<text transform="translate(217.20,675.89) scale(1.02,1)" x="-0.73" font-size="14.5" fill="#111">C</text>
<text transform="translate(228.90,679.49) scale(0.98,1)" x="-0.79" font-size="10.6" fill="#111">15</text>
<text transform="translate(241.30,675.89) scale(1.02,1)" x="-1.20" font-size="14.5" fill="#111">H</text>
<text transform="translate(252.40,679.49) scale(0.98,1)" x="-0.40" font-size="10.6" fill="#111">31</text>
<line x1="111.50" y1="670.20" x2="127.60" y2="670.20" stroke="#333" stroke-width="1.2"/>
<line x1="141.40" y1="670.20" x2="156.20" y2="670.20" stroke="#333" stroke-width="1.2"/>
<line x1="170.60" y1="670.20" x2="185.80" y2="670.20" stroke="#333" stroke-width="1.2"/>
<line x1="199.60" y1="670.20" x2="215.10" y2="670.20" stroke="#333" stroke-width="1.2"/>
<line x1="134.90" y1="650.10" x2="134.90" y2="663.90" stroke="#333" stroke-width="1.2"/>
<line x1="191.20" y1="650.10" x2="191.20" y2="663.90" stroke="#333" stroke-width="1.2"/>
<line x1="194.60" y1="650.10" x2="194.60" y2="663.90" stroke="#333" stroke-width="1.2"/>
<line x1="135.70" y1="677.10" x2="134.20" y2="690.10" stroke="#333" stroke-width="1.2"/>
<text transform="translate(2.00,698.39) scale(1.02,1)" x="-1.20" font-size="14.5" fill="#111">H</text>
<text transform="translate(13.00,701.99) scale(0.98,1)" x="-0.40" font-size="10.6" fill="#111">31</text>
<text transform="translate(25.80,698.39) scale(1.02,1)" x="-0.73" font-size="14.5" fill="#111">C</text>
<text transform="translate(37.80,701.99) scale(0.98,1)" x="-0.79" font-size="10.6" fill="#111">15</text>
<text transform="translate(75.40,702.69) scale(1.02,1)" x="-5.31" font-size="14.5" fill="#111">C</text>
<text transform="translate(75.40,676.14) scale(1.02,1)" x="-5.64" font-size="14.5" fill="#111">O</text>
<line x1="50.90" y1="697.40" x2="68.40" y2="697.40" stroke="#333" stroke-width="1.2"/>
<line x1="82.20" y1="697.20" x2="96.90" y2="697.20" stroke="#333" stroke-width="1.2"/>
<line x1="73.90" y1="677.50" x2="73.90" y2="690.60" stroke="#333" stroke-width="1.2"/>
<line x1="77.10" y1="677.50" x2="77.10" y2="690.60" stroke="#333" stroke-width="1.2"/>
<text transform="translate(104.80,702.29) scale(1.02,1)" x="-5.64" font-size="14.5" fill="#111">O</text>
<line x1="112.20" y1="696.60" x2="127.40" y2="696.60" stroke="#333" stroke-width="1.2"/>
<text transform="translate(134.40,702.29) scale(1.02,1)" x="-5.31" font-size="14.5" fill="#111">C</text>
<text transform="translate(163.30,702.29) scale(1.02,1)" x="-5.24" font-size="14.5" fill="#111">H</text>
<text transform="translate(192.40,702.29) scale(1.02,1)" x="-5.64" font-size="14.5" fill="#111">O</text>
<line x1="141.00" y1="696.60" x2="157.30" y2="696.60" stroke="#333" stroke-width="1.2"/>
<line x1="134.30" y1="703.80" x2="134.30" y2="717.65" stroke="#333" stroke-width="1.2"/>
<line x1="191.20" y1="703.80" x2="191.20" y2="717.65" stroke="#333" stroke-width="1.2"/>
<line x1="194.60" y1="703.80" x2="194.60" y2="717.65" stroke="#333" stroke-width="1.2"/>
<text transform="translate(105.10,730.14) scale(1.02,1)" x="-5.24" font-size="14.5" fill="#111">H</text>
<text transform="translate(134.40,730.14) scale(1.02,1)" x="-5.31" font-size="14.5" fill="#111">C</text>
<text transform="translate(163.20,730.14) scale(1.02,1)" x="-5.64" font-size="14.5" fill="#111">O</text>
<text transform="translate(192.40,730.14) scale(1.02,1)" x="-5.06" font-size="14.5" fill="#111">P</text>
<text transform="translate(221.20,730.14) scale(1.02,1)" x="-5.64" font-size="14.5" fill="#111">O</text>
<line x1="111.30" y1="724.45" x2="127.40" y2="724.45" stroke="#333" stroke-width="1.2"/>
<line x1="141.00" y1="724.45" x2="156.20" y2="724.45" stroke="#333" stroke-width="1.2"/>
<line x1="170.20" y1="724.45" x2="186.50" y2="724.45" stroke="#333" stroke-width="1.2"/>
<line x1="198.80" y1="724.45" x2="214.50" y2="724.45" stroke="#333" stroke-width="1.2"/>
<line x1="228.50" y1="724.45" x2="243.40" y2="724.45" stroke="#333" stroke-width="1.2"/>
<text transform="translate(245.40,730.14) scale(1.02,1)" x="-0.73" font-size="14.5" fill="#111">C</text>
<text transform="translate(256.60,730.14) scale(1.02,1)" x="-1.20" font-size="14.5" fill="#111">H</text>
<text transform="translate(267.20,733.74) scale(0.98,1)" x="-0.53" font-size="10.6" fill="#111">2</text>
<line x1="274.50" y1="724.45" x2="281.70" y2="724.45" stroke="#333" stroke-width="1.2"/>
<text transform="translate(283.50,730.14) scale(1.02,1)" x="-0.73" font-size="14.5" fill="#111">C</text>
<text transform="translate(295.00,730.14) scale(1.02,1)" x="-1.20" font-size="14.5" fill="#111">H</text>
<text transform="translate(305.50,733.74) scale(0.98,1)" x="-0.53" font-size="10.6" fill="#111">2</text>
<line x1="313.30" y1="723.95" x2="320.40" y2="723.95" stroke="#333" stroke-width="1.2"/>
<text transform="translate(322.30,730.14) scale(1.02,1)" x="-1.20" font-size="14.5" fill="#111">N</text>
<text transform="translate(333.90,730.14) scale(1.02,1)" x="-1.20" font-size="14.5" fill="#111">H</text>
<text transform="translate(344.50,733.74) scale(0.98,1)" x="-0.53" font-size="10.6" fill="#111">2</text>
<line x1="134.30" y1="731.65" x2="134.30" y2="744.40" stroke="#333" stroke-width="1.2"/>
<line x1="193.00" y1="731.65" x2="193.00" y2="744.40" stroke="#333" stroke-width="1.2"/>
<text transform="translate(134.40,756.99) scale(1.02,1)" x="-5.24" font-size="14.5" fill="#111">H</text>
<text transform="translate(192.40,756.99) scale(1.02,1)" x="-5.64" font-size="14.5" fill="#111">O</text>
<rect x="205.20" y="753.65" width="11.60" height="2.7" fill="#111"/>
<g transform="translate(334.27,-157.8) scale(0.9912,1)">
<text transform="translate(134.40,648.49) scale(1.02,1)" x="-5.24" font-size="14.5" fill="#0000ff">H</text>
<text transform="translate(192.40,648.49) scale(1.02,1)" x="-5.64" font-size="14.5" fill="#0000ff">O</text>
<text transform="translate(105.10,675.89) scale(1.02,1)" x="-5.24" font-size="14.5" fill="#0000ff">H</text>
<text transform="translate(134.40,675.89) scale(1.02,1)" x="-5.31" font-size="14.5" fill="#0000ff">C</text>
<text transform="translate(163.20,675.89) scale(1.02,1)" x="-5.64" font-size="14.5" fill="#0000ff">O</text>
<text transform="translate(192.40,675.89) scale(1.02,1)" x="-5.31" font-size="14.5" fill="#0000ff">C</text>
<text transform="translate(217.20,675.89) scale(1.02,1)" x="-0.73" font-size="14.5" fill="#0000ff">C</text>
<text transform="translate(228.90,679.49) scale(0.98,1)" x="-0.79" font-size="10.6" fill="#0000ff">15</text>
<text transform="translate(241.30,675.89) scale(1.02,1)" x="-1.20" font-size="14.5" fill="#0000ff">H</text>
<text transform="translate(252.40,679.49) scale(0.98,1)" x="-0.40" font-size="10.6" fill="#0000ff">31</text>
<line x1="111.50" y1="670.20" x2="127.60" y2="670.20" stroke="#2424ff" stroke-width="1.2"/>
<line x1="141.40" y1="670.20" x2="156.20" y2="670.20" stroke="#2424ff" stroke-width="1.2"/>
<line x1="170.60" y1="670.20" x2="185.80" y2="670.20" stroke="#2424ff" stroke-width="1.2"/>
<line x1="199.60" y1="670.20" x2="215.10" y2="670.20" stroke="#2424ff" stroke-width="1.2"/>
<line x1="134.90" y1="650.10" x2="134.90" y2="663.90" stroke="#2424ff" stroke-width="1.2"/>
<line x1="191.20" y1="650.10" x2="191.20" y2="663.90" stroke="#2424ff" stroke-width="1.2"/>
<line x1="194.60" y1="650.10" x2="194.60" y2="663.90" stroke="#2424ff" stroke-width="1.2"/>
<line x1="135.70" y1="677.10" x2="134.20" y2="690.10" stroke="#2424ff" stroke-width="1.2"/>
<text transform="translate(74.90,702.29) scale(1.02,1)" x="-5.24" font-size="14.5" fill="#0000ff">H</text>
<text transform="translate(104.00,702.29) scale(1.02,1)" x="-5.64" font-size="14.5" fill="#0000ff">O</text>
<line x1="81.60" y1="696.60" x2="96.50" y2="696.60" stroke="#2424ff" stroke-width="1.2"/>
<line x1="111.50" y1="696.60" x2="127.30" y2="696.60" stroke="#2424ff" stroke-width="1.2"/>
<text transform="translate(134.40,702.29) scale(1.02,1)" x="-5.31" font-size="14.5" fill="#0000ff">C</text>
<text transform="translate(163.30,702.29) scale(1.02,1)" x="-5.24" font-size="14.5" fill="#0000ff">H</text>
<text transform="translate(192.40,702.29) scale(1.02,1)" x="-5.64" font-size="14.5" fill="#0000ff">O</text>
<line x1="141.00" y1="696.60" x2="157.30" y2="696.60" stroke="#2424ff" stroke-width="1.2"/>
<line x1="134.30" y1="703.80" x2="134.30" y2="717.65" stroke="#2424ff" stroke-width="1.2"/>
<line x1="191.20" y1="703.80" x2="191.20" y2="717.65" stroke="#2424ff" stroke-width="1.2"/>
<line x1="194.60" y1="703.80" x2="194.60" y2="717.65" stroke="#2424ff" stroke-width="1.2"/>
<text transform="translate(105.10,730.14) scale(1.02,1)" x="-5.24" font-size="14.5" fill="#0000ff">H</text>
<text transform="translate(134.40,730.14) scale(1.02,1)" x="-5.31" font-size="14.5" fill="#0000ff">C</text>
<text transform="translate(163.20,730.14) scale(1.02,1)" x="-5.64" font-size="14.5" fill="#0000ff">O</text>
<text transform="translate(192.40,730.14) scale(1.02,1)" x="-5.06" font-size="14.5" fill="#0000ff">P</text>
<text transform="translate(221.20,730.14) scale(1.02,1)" x="-5.64" font-size="14.5" fill="#0000ff">O</text>
<line x1="111.30" y1="724.45" x2="127.40" y2="724.45" stroke="#2424ff" stroke-width="1.2"/>
<line x1="141.00" y1="724.45" x2="156.20" y2="724.45" stroke="#2424ff" stroke-width="1.2"/>
<line x1="170.20" y1="724.45" x2="186.50" y2="724.45" stroke="#2424ff" stroke-width="1.2"/>
<line x1="198.80" y1="724.45" x2="214.50" y2="724.45" stroke="#2424ff" stroke-width="1.2"/>
<line x1="228.50" y1="724.45" x2="243.40" y2="724.45" stroke="#2424ff" stroke-width="1.2"/>
<text transform="translate(245.40,730.14) scale(1.02,1)" x="-0.73" font-size="14.5" fill="#0000ff">C</text>
<text transform="translate(256.60,730.14) scale(1.02,1)" x="-1.20" font-size="14.5" fill="#0000ff">H</text>
<text transform="translate(267.20,733.74) scale(0.98,1)" x="-0.53" font-size="10.6" fill="#0000ff">2</text>
<line x1="274.50" y1="724.45" x2="281.70" y2="724.45" stroke="#2424ff" stroke-width="1.2"/>
<text transform="translate(283.50,730.14) scale(1.02,1)" x="-0.73" font-size="14.5" fill="#0000ff">C</text>
<text transform="translate(295.00,730.14) scale(1.02,1)" x="-1.20" font-size="14.5" fill="#0000ff">H</text>
<text transform="translate(305.50,733.74) scale(0.98,1)" x="-0.53" font-size="10.6" fill="#0000ff">2</text>
<line x1="313.30" y1="723.95" x2="320.40" y2="723.95" stroke="#2424ff" stroke-width="1.2"/>
<text transform="translate(322.30,730.14) scale(1.02,1)" x="-1.20" font-size="14.5" fill="#0000ff">N</text>
<text transform="translate(333.90,730.14) scale(1.02,1)" x="-1.20" font-size="14.5" fill="#0000ff">H</text>
<text transform="translate(344.50,733.74) scale(0.98,1)" x="-0.53" font-size="10.6" fill="#0000ff">2</text>
<line x1="134.30" y1="731.65" x2="134.30" y2="744.40" stroke="#2424ff" stroke-width="1.2"/>
<line x1="193.00" y1="731.65" x2="193.00" y2="744.40" stroke="#2424ff" stroke-width="1.2"/>
<text transform="translate(134.40,756.99) scale(1.02,1)" x="-5.24" font-size="14.5" fill="#0000ff">H</text>
<text transform="translate(192.40,756.99) scale(1.02,1)" x="-5.64" font-size="14.5" fill="#0000ff">O</text>
<rect x="204.10" y="748.15" width="12.10" height="2.7" fill="#0000ff"/>
</g>
<g transform="translate(340.18,1.0) scale(0.9674,1)">
<text transform="translate(192.40,648.39) scale(1.02,1)" x="-5.64" font-size="14.5" fill="#ff0000">O</text>
<text transform="translate(105.10,675.89) scale(1.02,1)" x="-5.24" font-size="14.5" fill="#ff0000">H</text>
<text transform="translate(134.40,675.89) scale(1.02,1)" x="-5.31" font-size="14.5" fill="#ff0000">C</text>
<text transform="translate(163.20,675.89) scale(1.02,1)" x="-5.64" font-size="14.5" fill="#ff0000">O</text>
<text transform="translate(192.40,675.89) scale(1.02,1)" x="-5.31" font-size="14.5" fill="#ff0000">C</text>
<text transform="translate(217.20,675.89) scale(1.02,1)" x="-0.73" font-size="14.5" fill="#ff0000">C</text>
<text transform="translate(228.90,679.49) scale(0.98,1)" x="-0.79" font-size="10.6" fill="#ff0000">15</text>
<text transform="translate(241.30,675.89) scale(1.02,1)" x="-1.20" font-size="14.5" fill="#ff0000">H</text>
<text transform="translate(252.40,679.49) scale(0.98,1)" x="-0.40" font-size="10.6" fill="#ff0000">31</text>
<line x1="111.50" y1="670.20" x2="127.60" y2="670.20" stroke="#ff2020" stroke-width="1.2"/>
<line x1="141.40" y1="670.20" x2="156.20" y2="670.20" stroke="#ff2020" stroke-width="1.2"/>
<line x1="170.60" y1="670.20" x2="185.80" y2="670.20" stroke="#ff2020" stroke-width="1.2"/>
<line x1="199.60" y1="670.20" x2="215.10" y2="670.20" stroke="#ff2020" stroke-width="1.2"/>
<line x1="191.20" y1="650.00" x2="191.20" y2="663.90" stroke="#ff2020" stroke-width="1.2"/>
<line x1="194.60" y1="650.00" x2="194.60" y2="663.90" stroke="#ff2020" stroke-width="1.2"/>
<line x1="133.50" y1="677.30" x2="132.60" y2="691.00" stroke="#ff2020" stroke-width="1.2"/>
<line x1="137.40" y1="677.30" x2="136.20" y2="691.00" stroke="#ff2020" stroke-width="1.2"/>
<text transform="translate(134.40,702.29) scale(1.02,1)" x="-5.31" font-size="14.5" fill="#ff0000">C</text>
<text transform="translate(163.30,702.29) scale(1.02,1)" x="-5.24" font-size="14.5" fill="#ff0000">H</text>
<text transform="translate(192.40,702.29) scale(1.02,1)" x="-5.64" font-size="14.5" fill="#ff0000">O</text>
<line x1="141.00" y1="696.60" x2="157.30" y2="696.60" stroke="#ff2020" stroke-width="1.2"/>
<line x1="134.30" y1="703.80" x2="134.30" y2="717.65" stroke="#ff2020" stroke-width="1.2"/>
<line x1="191.20" y1="703.80" x2="191.20" y2="717.65" stroke="#ff2020" stroke-width="1.2"/>
<line x1="194.60" y1="703.80" x2="194.60" y2="717.65" stroke="#ff2020" stroke-width="1.2"/>
<text transform="translate(105.10,730.14) scale(1.02,1)" x="-5.24" font-size="14.5" fill="#ff0000">H</text>
<text transform="translate(134.40,730.14) scale(1.02,1)" x="-5.31" font-size="14.5" fill="#ff0000">C</text>
<text transform="translate(163.20,730.14) scale(1.02,1)" x="-5.64" font-size="14.5" fill="#ff0000">O</text>
<text transform="translate(192.40,730.14) scale(1.02,1)" x="-5.06" font-size="14.5" fill="#ff0000">P</text>
<text transform="translate(221.20,730.14) scale(1.02,1)" x="-5.64" font-size="14.5" fill="#ff0000">O</text>
<line x1="111.30" y1="724.45" x2="127.40" y2="724.45" stroke="#ff2020" stroke-width="1.2"/>
<line x1="141.00" y1="724.45" x2="156.20" y2="724.45" stroke="#ff2020" stroke-width="1.2"/>
<line x1="170.20" y1="724.45" x2="186.50" y2="724.45" stroke="#ff2020" stroke-width="1.2"/>
<line x1="198.80" y1="724.45" x2="214.50" y2="724.45" stroke="#ff2020" stroke-width="1.2"/>
<line x1="228.50" y1="724.45" x2="243.40" y2="724.45" stroke="#ff2020" stroke-width="1.2"/>
<text transform="translate(245.40,730.14) scale(1.02,1)" x="-0.73" font-size="14.5" fill="#ff0000">C</text>
<text transform="translate(256.60,730.14) scale(1.02,1)" x="-1.20" font-size="14.5" fill="#ff0000">H</text>
<text transform="translate(267.20,733.74) scale(0.98,1)" x="-0.53" font-size="10.6" fill="#ff0000">2</text>
<line x1="274.50" y1="724.45" x2="281.70" y2="724.45" stroke="#ff2020" stroke-width="1.2"/>
<text transform="translate(283.50,730.14) scale(1.02,1)" x="-0.73" font-size="14.5" fill="#ff0000">C</text>
<text transform="translate(295.00,730.14) scale(1.02,1)" x="-1.20" font-size="14.5" fill="#ff0000">H</text>
<text transform="translate(305.50,733.74) scale(0.98,1)" x="-0.53" font-size="10.6" fill="#ff0000">2</text>
<line x1="313.30" y1="723.95" x2="320.40" y2="723.95" stroke="#ff2020" stroke-width="1.2"/>
<text transform="translate(322.30,730.14) scale(1.02,1)" x="-1.20" font-size="14.5" fill="#ff0000">N</text>
<text transform="translate(333.90,730.14) scale(1.02,1)" x="-1.20" font-size="14.5" fill="#ff0000">H</text>
<text transform="translate(344.50,733.74) scale(0.98,1)" x="-0.53" font-size="10.6" fill="#ff0000">2</text>
<line x1="134.30" y1="731.65" x2="134.30" y2="744.40" stroke="#ff2020" stroke-width="1.2"/>
<line x1="193.00" y1="731.65" x2="193.00" y2="744.40" stroke="#ff2020" stroke-width="1.2"/>
<text transform="translate(134.40,756.99) scale(1.02,1)" x="-5.24" font-size="14.5" fill="#ff0000">H</text>
<text transform="translate(192.40,756.99) scale(1.02,1)" x="-5.64" font-size="14.5" fill="#ff0000">O</text>
<rect x="202.90" y="753.50" width="12.50" height="2.7" fill="#ff0000"/>
</g>
<g transform="translate(472.76,141.3) scale(1.069,1)">
<text transform="translate(2.00,697.94) scale(1.02,1)" x="-1.20" font-size="14.5" fill="#008000">H</text>
<text transform="translate(13.00,701.54) scale(0.98,1)" x="-0.40" font-size="10.6" fill="#008000">31</text>
<text transform="translate(25.80,697.94) scale(1.02,1)" x="-0.73" font-size="14.5" fill="#008000">C</text>
<text transform="translate(37.80,701.54) scale(0.98,1)" x="-0.79" font-size="10.6" fill="#008000">15</text>
<text transform="translate(75.40,702.59) scale(1.02,1)" x="-5.31" font-size="14.5" fill="#008000">C</text>
<text transform="translate(75.40,676.14) scale(1.02,1)" x="-5.64" font-size="14.5" fill="#008000">O</text>
<line x1="50.90" y1="696.60" x2="68.40" y2="696.60" stroke="#108a10" stroke-width="1.2"/>
<line x1="82.20" y1="696.60" x2="97.30" y2="696.60" stroke="#108a10" stroke-width="1.2"/>
<line x1="73.90" y1="677.50" x2="73.90" y2="690.60" stroke="#108a10" stroke-width="1.2"/>
<line x1="77.10" y1="677.50" x2="77.10" y2="690.60" stroke="#108a10" stroke-width="1.2"/>
<text transform="translate(104.80,702.59) scale(1.02,1)" x="-5.64" font-size="14.5" fill="#008000">O</text>
<rect x="115.50" y="694.05" width="11.10" height="2.7" fill="#008000"/>
</g>
<line x1="325.20" y1="629.60" x2="396.82" y2="583.90" stroke="#000" stroke-width="2.2"/>
<path d="M401.20 581.10 L397.53 586.88 L394.41 581.99 Z" fill="#000"/>
<line x1="352.20" y1="700.50" x2="417.80" y2="700.50" stroke="#000" stroke-width="2.2"/>
<path d="M423.00 700.50 L416.80 703.40 L416.80 697.60 Z" fill="#000"/>
<line x1="325.40" y1="776.90" x2="412.58" y2="817.41" stroke="#000" stroke-width="2.2"/>
<path d="M417.30 819.60 L410.46 819.62 L412.90 814.36 Z" fill="#000"/>
<text transform="translate(97.73,793.25) scale(1.0744,1)" font-size="16.8" font-weight="bold" fill="#111">m/z 690.5</text>
<text transform="translate(487.83,625.65) scale(1.0744,1)" font-size="16.8" font-weight="bold" fill="#0000ff">m/z 452.3</text>
<text transform="translate(487.93,783.05) scale(1.0744,1)" font-size="16.8" font-weight="bold" fill="#ff0000">m/z 434.3</text>
<text transform="translate(488.23,869.85) scale(1.0744,1)" font-size="16.8" font-weight="bold" fill="#008000">m/z 255.2</text>
</svg>
</body></html>
